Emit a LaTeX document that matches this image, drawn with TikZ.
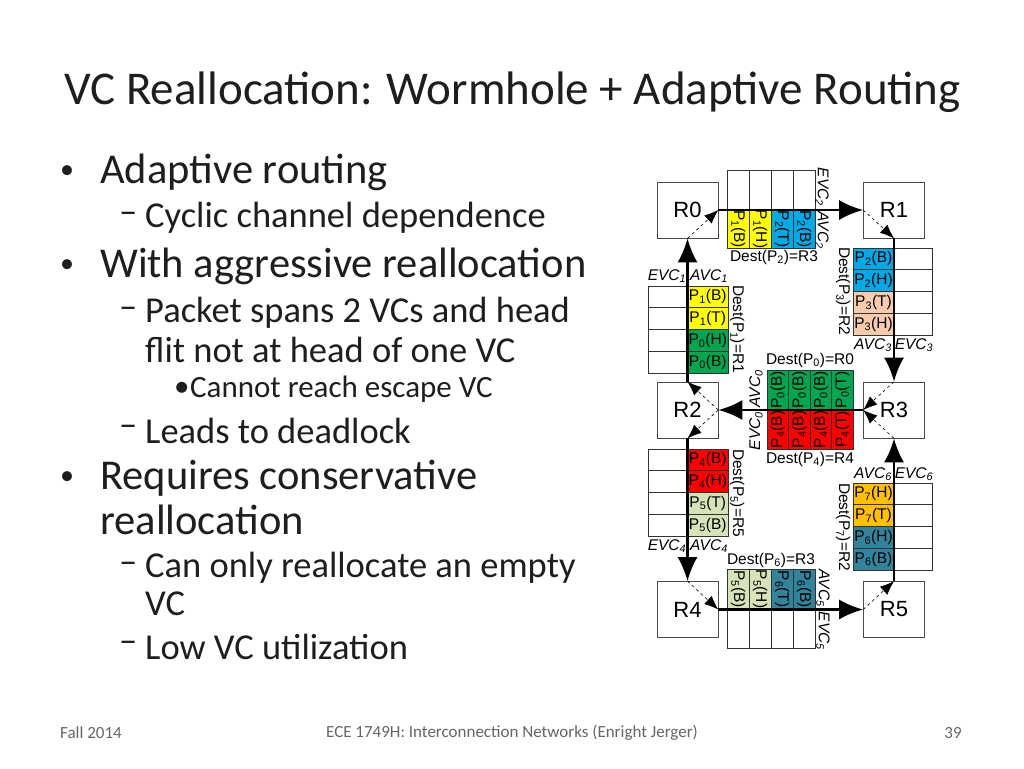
\documentclass[tikz,border=0pt]{standalone}
\usepackage{fontspec}
\setmainfont{Carlito}
\newfontfamily\arial{Liberation Sans}
\usetikzlibrary{arrows.meta}
\definecolor{yel}{RGB}{255,255,0}
\definecolor{blu}{RGB}{0,170,230}
\definecolor{pch}{RGB}{248,203,173}
\definecolor{grn}{RGB}{0,166,80}
\definecolor{red1}{RGB}{255,0,0}
\definecolor{sag}{RGB}{214,226,184}
\definecolor{tea}{RGB}{49,132,155}
\definecolor{org}{RGB}{255,192,0}
\definecolor{txt}{RGB}{30,30,30}
\newcommand{\sbs}[1]{\textsubscript{#1}}
\begin{document}
\begin{tikzpicture}[x=1pt,y=-1pt,
  router/.style={draw=black!70,line width=0.6pt,minimum width=61pt,minimum height=56pt,inner sep=0pt,font=\arial\fontsize{22}{22}\selectfont},
  mainarr/.style={line width=2.6pt,-{Latex[length=24pt,width=20pt]}},
  dsh/.style={dashed,line width=0.6pt,-{Latex[length=14pt,width=11pt]}},
  cellt/.style={font=\arial\fontsize{15.5}{15.5}\selectfont,inner sep=0pt},
  lbl/.style={font=\arial\itshape\fontsize{15.5}{15.5}\selectfont,inner sep=0pt},
  dl/.style={font=\arial\fontsize{15.5}{15.5}\selectfont,inner sep=0pt},
  bul/.style={anchor=west,font=\fontsize{28}{28}\selectfont,text=txt,inner sep=0pt},
  l1/.style={anchor=west,font=\fontsize{42.5}{42.5}\selectfont,text=txt,inner sep=0pt},
  l2/.style={anchor=west,font=\fontsize{36.5}{36.5}\selectfont,text=txt,inner sep=0pt},
  l3/.style={anchor=west,font=\fontsize{31}{31}\selectfont,text=txt,inner sep=0pt},
  ft/.style={font=\fontsize{17}{17}\selectfont,text=black!60,inner sep=0pt},
  cellb/.style={draw=black!80,line width=0.6pt}]
\useasboundingbox (0,0) rectangle (1024,768);
% title and text
\node[anchor=west,font=\fontsize{47}{47}\selectfont,text=txt,inner sep=0] (title) at (64,92) {VC Reallocation: Wormhole + Adaptive Routing};
\node[bul] (b1) at (60,172) {•};
\node[l1] (t1) at (100,172) {Adaptive routing};
\node[l2] (d1) at (119,218) {–};
\node[l2] (t2) at (145,218) {Cyclic channel dependence};
\node[bul] (b2) at (60,266) {•};
\node[l1] (t3) at (100,266) {With aggressive reallocation};
\node[l2] (d2) at (119,313) {–};
\node[l2] (t4) at (145,313) {Packet spans 2 VCs and head};
\node[l2] (t5) at (145,350) {flit not at head of one VC};
\node[l3] (b3) at (174,389) {•};
\node[l3] (t6) at (190,389) {Cannot reach escape VC};
\node[l2] (d3) at (119,431) {–};
\node[l2] (t7) at (145,431) {Leads to deadlock};
\node[bul] (b4) at (60,478) {•};
\node[l1] (t8) at (100,478) {Requires conservative};
\node[l1] (t9) at (100,520) {reallocation};
\node[l2] (d4) at (119,568) {–};
\node[l2] (t10) at (145,568) {Can only reallocate an empty};
\node[l2] (t11) at (145,604) {VC};
\node[l2] (d5) at (119,647) {–};
\node[l2] (t12) at (145,647) {Low VC utilization};
\node[ft,anchor=west] (f1) at (60,733) {Fall 2014};
\node[ft] (f2) at (512,733) {ECE 1749H: Interconnection Networks (Enright Jerger)};
\node[ft] (f3) at (953,733) {39};
% routers
\node[router] (R0) at (687.5,210) {R0};
\node[router] (R1) at (894,210) {R1};
\node[router] (R2) at (687.5,410) {R2};
\node[router] (R3) at (894,410) {R3};
\node[router] (R4) at (687.5,609.5) {R4};
\node[router] (R5) at (894,609.5) {R5};
% top buffer
\foreach \i/\c/\t in {0/yel/{P\sbs{1}(B)},1/yel/{P\sbs{1}(H)},2/blu/{P\sbs{2}(T)},3/blu/{P\sbs{2}(B)}}{
  \draw[cellb,fill=\c] (727+22*\i,210) rectangle (749+22*\i,248);
  \draw[cellb] (727+22*\i,170) rectangle (749+22*\i,210);
  \node[cellt,rotate=-90] at (738+22*\i,229) {\t};}
% bottom buffer
\foreach \i/\c/\t in {0/sag/{P\sbs{5}(B)},1/sag/{P\sbs{5}(H)},2/tea/{P\sbs{6}(T)},3/tea/{P\sbs{6}(B)}}{
  \draw[cellb,fill=\c] (727+22*\i,569) rectangle (749+22*\i,609.5);
  \draw[cellb] (727+22*\i,609.5) rectangle (749+22*\i,648);
  \node[cellt,rotate=-90] at (738+22*\i,589) {\t};}
% middle buffer
\foreach \i/\t/\u in {0/{P\sbs{0}(B)}/{P\sbs{4}(B)},1/{P\sbs{0}(B)}/{P\sbs{4}(B)},2/{P\sbs{0}(B)}/{P\sbs{4}(B)},3/{P\sbs{0}(T)}/{P\sbs{4}(T)}}{
  \draw[cellb,fill=grn] (767+21.5*\i,370) rectangle (788.5+21.5*\i,410);
  \draw[cellb,fill=red1] (767+21.5*\i,410) rectangle (788.5+21.5*\i,449);
  \node[cellt,rotate=90] at (777.75+21.5*\i,390) {\t};
  \node[cellt,rotate=90] at (777.75+21.5*\i,429.5) {\u};}
% left upper buffer
\foreach \i/\c/\t in {0/yel/{P\sbs{1}(B)},1/yel/{P\sbs{1}(T)},2/grn/{P\sbs{0}(H)},3/grn/{P\sbs{0}(B)}}{
  \draw[cellb,fill=\c] (687.5,286+21.75*\i) rectangle (728,307.75+21.75*\i);
  \draw[cellb] (648,286+21.75*\i) rectangle (687.5,307.75+21.75*\i);
  \node[cellt] at (707.75,296.9+21.75*\i) {\t};}
% left lower buffer
\foreach \i/\c/\t in {0/red1/{P\sbs{4}(B)},1/red1/{P\sbs{4}(H)},2/sag/{P\sbs{5}(T)},3/sag/{P\sbs{5}(B)}}{
  \draw[cellb,fill=\c] (687.5,449+21.75*\i) rectangle (728,470.75+21.75*\i);
  \draw[cellb] (648,449+21.75*\i) rectangle (687.5,470.75+21.75*\i);
  \node[cellt] at (707.75,459.9+21.75*\i) {\t};}
% right upper buffer
\foreach \i/\c/\t in {0/blu/{P\sbs{2}(B)},1/blu/{P\sbs{2}(H)},2/pch/{P\sbs{3}(T)},3/pch/{P\sbs{3}(H)}}{
  \draw[cellb,fill=\c] (853,248+21.75*\i) rectangle (894,269.75+21.75*\i);
  \draw[cellb] (894,248+21.75*\i) rectangle (932,269.75+21.75*\i);
  \node[cellt] at (873.5,258.9+21.75*\i) {\t};}
% right lower buffer
\foreach \i/\c/\t in {0/org/{P\sbs{7}(H)},1/org/{P\sbs{7}(T)},2/tea/{P\sbs{6}(H)},3/tea/{P\sbs{6}(B)}}{
  \draw[cellb,fill=\c] (853,483+21.75*\i) rectangle (894,504.75+21.75*\i);
  \draw[cellb] (894,483+21.75*\i) rectangle (932,504.75+21.75*\i);
  \node[cellt] at (873.5,493.9+21.75*\i) {\t};}
% main arrows
\draw[mainarr] (R0.east) -- (R1.west);
\draw[mainarr] (R1.south) -- (R3.north);
\draw[mainarr] (R3.west) -- (R2.east);
\draw[mainarr] (R2.north) -- (R0.south);
\draw[mainarr] (R2.south) -- (R4.north);
\draw[mainarr] (R4.east) -- (R5.west);
\draw[mainarr] (R5.north) -- (R3.south);
% internal dashed
\draw[dsh] (R0.south) -- (R0.east);
\draw[dsh] (R1.west) -- (R1.south);
\draw[dsh] (R2.east) -- (R2.north);
\draw[dsh] (R2.east) -- (R2.south);
\draw[dsh] (R3.north) -- (R3.west);
\draw[dsh] (R3.south) -- (R3.west);
\draw[dsh] (R4.north) -- (R4.east);
\draw[dsh] (R5.west) -- (R5.north);
% labels
\node[lbl,rotate=-90] (e2) at (822,187) {EVC\sbs{2}};
\node[lbl,rotate=-90] (a2) at (822,230) {AVC\sbs{2}};
\node[dl] (dp2) at (774,257) {Dest(P\sbs{2})=R3};
\node[dl,rotate=-90] (dp3) at (843,291) {Dest(P\sbs{3})=R2};
\node[lbl] (a3) at (873,345) {AVC\sbs{3}};
\node[lbl] (e3) at (914,345) {EVC\sbs{3}};
\node[lbl] (e1) at (667,276) {EVC\sbs{1}};
\node[lbl] (a1) at (709,276) {AVC\sbs{1}};
\node[dl,rotate=-90] (dp1) at (737,329) {Dest(P\sbs{1})=R1};
\node[dl] (dp0) at (810,360) {Dest(P\sbs{0})=R0};
\node[lbl,rotate=90] (a0) at (756,389) {AVC\sbs{0}};
\node[lbl,rotate=90] (e0) at (756,431) {EVC\sbs{0}};
\node[dl] (dp4) at (810,459) {Dest(P\sbs{4})=R4};
\node[dl,rotate=-90] (dp5) at (737,493) {Dest(P\sbs{5})=R5};
\node[lbl] (e4) at (667,546) {EVC\sbs{4}};
\node[lbl] (a4) at (709,546) {AVC\sbs{4}};
\node[dl] (dp6) at (771,560) {Dest(P\sbs{6})=R3};
\node[lbl,rotate=-90] (a5) at (823,588) {AVC\sbs{5}};
\node[lbl,rotate=-90] (e5) at (823,631) {EVC\sbs{5}};
\node[lbl] (a6) at (873,474) {AVC\sbs{6}};
\node[lbl] (e6) at (914,474) {EVC\sbs{6}};
\node[dl,rotate=-90] (dp7) at (843,527) {Dest(P\sbs{7})=R2};
\end{tikzpicture}
\end{document}
